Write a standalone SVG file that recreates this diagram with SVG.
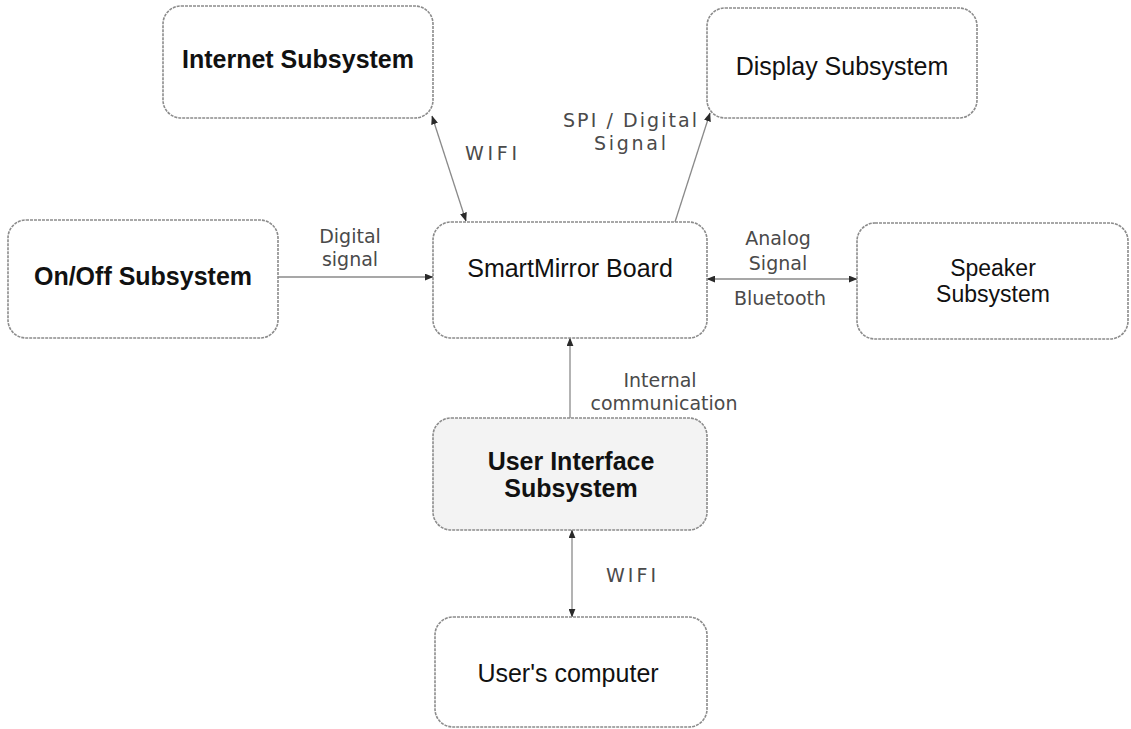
<svg xmlns="http://www.w3.org/2000/svg" width="1131" height="729" viewBox="0 0 1131 729">
  <style>
    .box { fill: #ffffff; stroke: #8c8c8c; stroke-width: 1.6; stroke-dasharray: 3 1; }
    .box.shaded { fill: #f3f3f3; }
    .title { font-family: "Liberation Sans", Arial, sans-serif; font-size: 25px; fill: #111; text-anchor: middle; }
    .title.bold { font-weight: bold; }
    .title.small { font-size: 23px; }
    .label { font-family: "DejaVu Sans", Verdana, sans-serif; font-size: 19px; fill: #4a4a4a; text-anchor: middle; }
    .wire { fill: none; stroke: #8a8a8a; stroke-width: 1.3; }
  </style>
  <defs>
    <marker id="head" viewBox="0 0 10 8" refX="9.5" refY="4" markerWidth="9" markerHeight="7" markerUnits="userSpaceOnUse" orient="auto-start-reverse">
      <path d="M0,0 L10,4 L0,8 Z" fill="#2a2a2a"/>
    </marker>
  </defs>

  <rect width="1131" height="729" fill="#ffffff"/>

  <!-- connectors -->
  <g id="connectors">
    <line class="wire" x1="432" y1="116" x2="466" y2="221" marker-start="url(#head)" marker-end="url(#head)"/>
    <line class="wire" x1="675" y1="222" x2="710" y2="113" marker-end="url(#head)"/>
    <line class="wire" x1="278" y1="277" x2="433" y2="277" marker-end="url(#head)"/>
    <line class="wire" x1="707" y1="279" x2="857" y2="279" marker-start="url(#head)" marker-end="url(#head)"/>
    <line class="wire" x1="570" y1="418" x2="570" y2="338" marker-end="url(#head)"/>
    <line class="wire" x1="572" y1="530" x2="572" y2="617" marker-start="url(#head)" marker-end="url(#head)"/>

    <text class="label" x="491" y="160" font-size="17" textLength="52">WIFI</text>
    <text class="label" x="630" y="127" textLength="134">SPI / Digital</text>
    <text class="label" x="630" y="150" textLength="72">Signal</text>
    <text class="label" x="350" y="243">Digital</text>
    <text class="label" x="350" y="266">signal</text>
    <text class="label" x="778" y="245">Analog</text>
    <text class="label" x="778" y="270">Signal</text>
    <text class="label" x="780" y="305">Bluetooth</text>
    <text class="label" x="660" y="387">Internal</text>
    <text class="label" x="664" y="410">communication</text>
    <text class="label" x="631" y="582" font-size="17" textLength="50">WIFI</text>
  </g>

  <!-- nodes -->
  <g id="internet">
    <rect class="box" x="163" y="6" width="270" height="112" rx="18"/>
    <text class="title bold" x="298" y="68">Internet Subsystem</text>
  </g>
  <g id="display">
    <rect class="box" x="707" y="8" width="270" height="110" rx="18"/>
    <text class="title" x="842" y="75">Display Subsystem</text>
  </g>
  <g id="onoff">
    <rect class="box" x="8" y="220" width="270" height="118" rx="18"/>
    <text class="title bold" x="143" y="285">On/Off Subsystem</text>
  </g>
  <g id="smartmirror">
    <rect class="box" x="433" y="222" width="274" height="116" rx="18"/>
    <text class="title" x="570" y="277">SmartMirror Board</text>
  </g>
  <g id="speaker">
    <rect class="box" x="857" y="223" width="271" height="116" rx="18"/>
    <text class="title small" x="993" y="276">Speaker</text>
    <text class="title small" x="993" y="302">Subsystem</text>
  </g>
  <g id="user-interface">
    <rect class="box shaded" x="433" y="418" width="274" height="112" rx="18"/>
    <text class="title bold" x="571" y="470">User Interface</text>
    <text class="title bold" x="571" y="497">Subsystem</text>
  </g>
  <g id="users-computer">
    <rect class="box" x="435" y="617" width="272" height="110" rx="18"/>
    <text class="title" x="568" y="682">User's computer</text>
  </g>
</svg>
